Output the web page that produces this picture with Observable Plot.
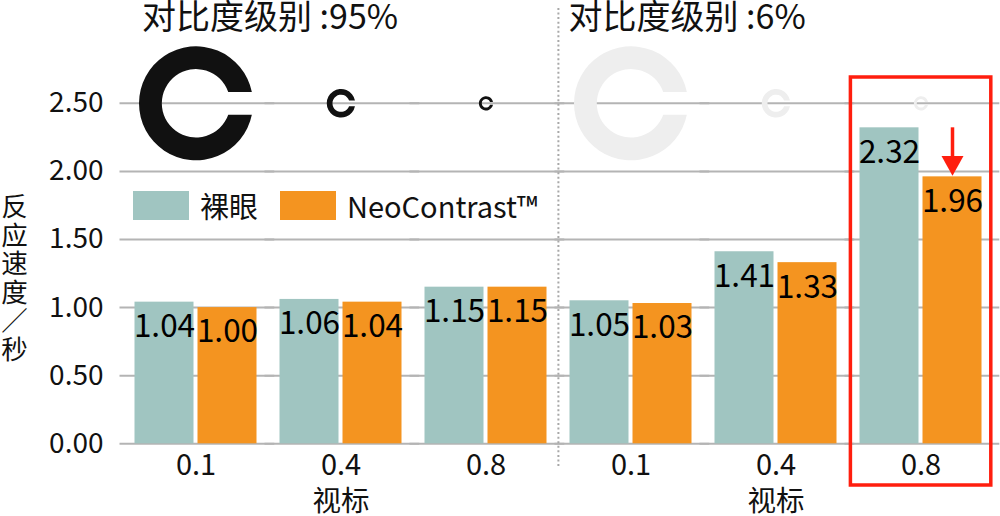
<!DOCTYPE html>
<html>
<head>
<meta charset="utf-8">
<script src="https://cdn.jsdelivr.net/npm/d3@7"></script>
<script src="https://cdn.jsdelivr.net/npm/@observablehq/plot@0.6"></script>
<style>
  html, body { margin: 0; padding: 0; background: #fff; }
  #wrap { position: relative; width: 1000px; height: 516px; font-family: "Noto Sans CJK SC", "Noto Sans", sans-serif; }
  #legend { position: absolute; left: 133px; top: 191px; display: flex; align-items: center; font-size: 29px; color: #111; }
  #legend .sw { width: 56px; height: 29px; margin-right: 11px; }
  #legend .item { display: flex; align-items: center; margin-right: 22px; line-height: 29px; }
  #ylabel { position: absolute; left: 0px; top: 193px; width: 28px; font-size: 26.5px; line-height: 28px;
            writing-mode: vertical-rl; text-orientation: upright; letter-spacing: 2px;
            font-feature-settings: "vert" 0, "vrt2" 0; color: #111; }
</style>
</head>
<body>
<div id="wrap">
  <div id="chart"></div>
  <div id="legend"></div>
  <div id="ylabel"></div>
</div>
<script>
// ---- data ----
const acuity = ["0.1", "0.4", "0.8", "0.1", "0.4", "0.8"];
const contrast = ["95%", "95%", "95%", "6%", "6%", "6%"];
const series = ["裸眼", "NeoContrast™"];
const nakedEye = [1.04, 1.06, 1.15, 1.05, 1.41, 2.32];
const neoContrast = [1.00, 1.04, 1.15, 1.03, 1.33, 1.96];
const seriesColors = ["#a0c5c1", "#f49420"];
const yTicks = [0, 0.5, 1.0, 1.5, 2.0, 2.5];
const titles = ["对比度级别 :95%", "对比度级别 :6%"];
const xTitle = "视标";
const yTitle = "反应速度／秒";
const symbolColors = { "95%": "#111111", "6%": "#eeeeee" };

// ---- derived tables ----
const keyOf = i => contrast[i] + "|" + acuity[i];
const keys = acuity.map((_, i) => keyOf(i));
const rows = [];
acuity.forEach((a, i) => {
  rows.push({ key: keyOf(i), series: series[0], value: nakedEye[i] });
  rows.push({ key: keyOf(i), series: series[1], value: neoContrast[i] });
});
const cRows = acuity.map((a, i) => ({ key: keyOf(i), acuity: +a, contrast: contrast[i] }));
const last = acuity.length - 1;
const arrowRows = [{ key: keyOf(last), series: series[1], from: nakedEye[last], to: neoContrast[last] }];

// Landolt C symbol
const landoltC = {
  draw(ctx, size) {
    const R = Math.sqrt(size / Math.PI);
    const r = 0.6 * R, h = 0.2 * R;
    const ao = Math.asin(h / R), ai = Math.asin(h / r);
    ctx.moveTo(R * Math.cos(ao), -h);
    ctx.arc(0, 0, R, -ao, ao, true);
    ctx.lineTo(r * Math.cos(ai), h);
    ctx.arc(0, 0, r, ai, -ai, false);
    ctx.closePath();
  }
};
// downward triangle with tip at origin
const triDown = {
  draw(ctx, size) {
    const R = Math.sqrt(size / Math.PI);
    ctx.moveTo(-R, -1.8 * R);
    ctx.lineTo(R, -1.8 * R);
    ctx.lineTo(0, 0);
    ctx.closePath();
  }
};

const red = "#ff1e0e";
const font = "Noto Sans CJK SC";

const chart = Plot.plot({
  width: 1000,
  height: 516,
  marginLeft: 132.5,
  marginRight: 17.3,
  marginTop: 34.7,
  marginBottom: 72.7,
  style: { fontFamily: font, background: "transparent", overflow: "visible" },
  fx: { domain: keys, paddingInner: 0.151, paddingOuter: 0, axis: null },
  x: { domain: series, paddingInner: 0.063, paddingOuter: 0, axis: null },
  y: { domain: [0, 3], axis: null },
  r: { type: "linear", domain: [0, 10], range: [0, 57] },
  color: { domain: series, range: seriesColors },
  marks: [
    Plot.ruleY(yTicks, { y: d => d, stroke: "#b4b4b4", strokeWidth: 2, insetLeft: -14.5, insetRight: -17.3 }),
    Plot.ruleX([keyOf(3)], { fx: d => d, x: () => series[0], dx: -41.1, insetTop: -26.7, insetBottom: -24.7, stroke: "#a8a8a8", strokeWidth: 2, strokeDasharray: "2,2.56" }),
    Plot.barY(rows, { fx: "key", x: "series", y: "value", fill: "series" }),
    Plot.text(rows, { fx: "key", x: "series", y: "value", text: d => d.value.toFixed(2), lineAnchor: "top", dy: 12.5, fontSize: 31.5, fill: "#000" }),
    Plot.dot(cRows.filter(d => d.contrast === "95%"), { fx: "key", y: 2.5, r: d => 1 / d.acuity, symbol: landoltC, fill: symbolColors["95%"], stroke: "none" }),
    Plot.dot(cRows.filter(d => d.contrast === "6%"), { fx: "key", y: 2.5, r: d => 1 / d.acuity, symbol: landoltC, fill: symbolColors["6%"], stroke: "none" }),
    Plot.ruleX(arrowRows, { fx: "key", x: "series", y1: "from", y2: "to", insetBottom: 18, stroke: red, strokeWidth: 3.5 }),
    Plot.dot(arrowRows, { fx: "key", x: "series", y: "to", r: 11, symbol: triDown, fill: red, stroke: "none", dy: -1 }),
    Plot.rect([keyOf(last)], { fx: d => d, fill: "none", stroke: red, strokeWidth: 3.5, insetTop: 42.3, insetBottom: -41.7, insetLeft: -8.6, insetRight: -8.8 }),
    Plot.text([{ key: keyOf(0), t: titles[0] }], { fx: "key", text: "t", frameAnchor: "top-left", textAnchor: "start", lineAnchor: "middle", dx: 7.5, dy: -17.5, fontSize: 34, fill: "#111" }),
    Plot.text([{ key: keyOf(3), t: titles[1] }], { fx: "key", text: "t", frameAnchor: "top-left", textAnchor: "start", lineAnchor: "middle", dx: -1, dy: -17.5, fontSize: 34, fill: "#111" }),
    Plot.text([keyOf(1), keyOf(4)], { fx: d => d, text: () => xTitle, frameAnchor: "bottom", lineAnchor: "middle", dy: 58, fontSize: 28.5, fill: "#111" }),
    Plot.axisY(yTicks, { tickSize: 0, tickPadding: 31, fontSize: 28, tickFormat: d => d.toFixed(2), label: null, fill: "#111" }),
    Plot.axisFx({ anchor: "bottom", tickSize: 0, tickPadding: 10.5, fontSize: 29, tickFormat: k => k.split("|")[1], label: null, fill: "#111" })
  ]
});
document.getElementById("chart").appendChild(chart);

// legend
const legend = document.getElementById("legend");
series.forEach((s, i) => {
  const item = document.createElement("div");
  item.className = "item";
  const sw = document.createElement("div");
  sw.className = "sw";
  sw.style.background = seriesColors[i];
  const tx = document.createElement("span");
  tx.textContent = s;
  item.appendChild(sw);
  item.appendChild(tx);
  legend.appendChild(item);
});

// y title, vertical
document.getElementById("ylabel").textContent = yTitle;
</script>
</body>
</html>
